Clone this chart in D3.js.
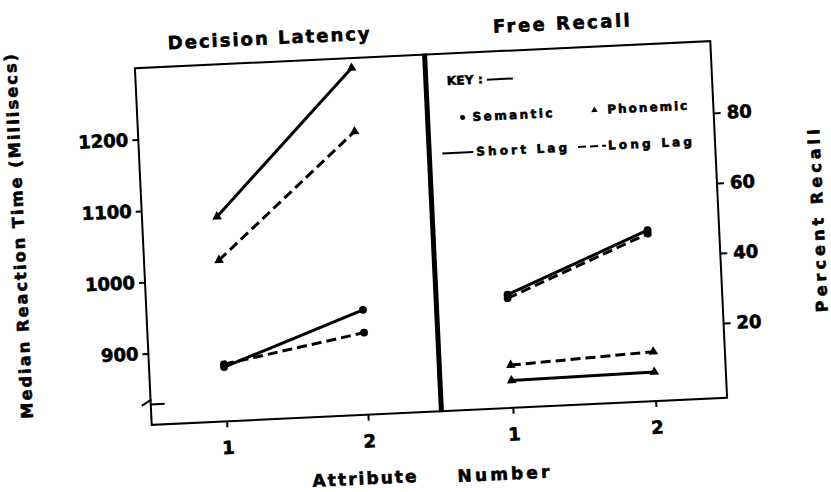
<!DOCTYPE html>
<html>
<head>
<meta charset="utf-8">
<script src="https://cdnjs.cloudflare.com/ajax/libs/d3/7.8.5/d3.min.js"></script>
<style>
  body { margin: 0; background: #fff; }
  text { font-family: "DejaVu Sans", sans-serif; font-weight: bold; fill: #000; stroke: #000; stroke-width: 0.6px; }
</style>
</head>
<body>
<div id="chart"></div>
<script>
// values
var attributes = [1, 2];
var latencyTicks = [900, 1000, 1100, 1200];
var recallTicks = [20, 40, 60, 80];

// decision latency (ms)
var latSemShort = [876, 947];
var latSemLong = [880, 915];
var latPhonShort = [1087, 1286];
var latPhonLong = [1026, 1197];

// free recall (percent)
var recSemShort = [31, 47.5];
var recSemLong = [30, 46.5];
var recPhonShort = [6.5, 7];
var recPhonLong = [10.9, 12.8];

var cfg = {
    w: 831,
    h: 492,
    left: 143,
    mid: 433,
    right: 719,
    top: 54.5,
    bottom: 411.5,
    tilt: -2.7 // the scan is slightly rotated
};

var svg = d3.select("#chart")
    .append("svg")
    .attr("width", cfg.w)
    .attr("height", cfg.h);

var g = svg.append("g")
    .attr("transform", "rotate(" + cfg.tilt + ",431,233)");

var xLeft = d3.scaleLinear().domain([0.47, 2.52]).range([cfg.left, cfg.mid]);
var xRight = d3.scaleLinear().domain([0.5, 2.5]).range([cfg.mid, cfg.right]);
var yLat = d3.scaleLinear().domain([800, 1300]).range([cfg.bottom, cfg.top]);
var yRec = d3.scaleLinear().domain([-1.3, 100.5]).range([cfg.bottom, cfg.top]);

// frame
g.append("rect")
    .attr("x", cfg.left)
    .attr("y", cfg.top)
    .attr("width", cfg.right - cfg.left)
    .attr("height", cfg.bottom - cfg.top)
    .style("fill", "none")
    .style("stroke", "#000")
    .style("stroke-width", "2px");

g.append("line")
    .attr("x1", cfg.mid).attr("x2", cfg.mid)
    .attr("y1", cfg.top - 1).attr("y2", cfg.bottom + 1)
    .style("stroke", "#000")
    .style("stroke-width", "5px");

// axis break on the left axis
g.append("path")
    .attr("d", "M" + (cfg.left - 9) + ",392 L" + (cfg.left + 1) + ",386 M" + (cfg.left) + ",391 L" + (cfg.left + 14) + ",391")
    .style("fill", "none")
    .style("stroke", "#000")
    .style("stroke-width", "2px");

function styleAxis(sel, size) {
    sel.select(".domain").remove();
    sel.selectAll(".tick line").style("stroke", "#000").style("stroke-width", "2px");
    sel.selectAll(".tick text")
        .style("font-family", "DejaVu Sans, sans-serif")
        .style("font-weight", "bold")
        .style("font-size", size + "px")
        .style("stroke", "#000")
        .style("stroke-width", "0.6px")
        .attr("fill", "#000");
}

g.append("g")
    .attr("transform", "translate(" + cfg.left + ",0)")
    .call(d3.axisLeft(yLat).tickValues(latencyTicks).tickFormat(d3.format("d")).tickSize(6).tickPadding(4))
    .call(styleAxis, 18);

g.append("g")
    .attr("transform", "translate(" + cfg.right + ",0)")
    .call(d3.axisRight(yRec).tickValues(recallTicks).tickFormat(d3.format("d")).tickSize(7).tickPadding(6))
    .call(styleAxis, 18);

g.append("g")
    .attr("transform", "translate(0," + cfg.bottom + ")")
    .call(d3.axisBottom(xLeft).tickValues(attributes).tickFormat(d3.format("d")).tickSize(6).tickPadding(14))
    .call(styleAxis, 18);

g.append("g")
    .attr("transform", "translate(0," + cfg.bottom + ")")
    .call(d3.axisBottom(xRight).tickValues(attributes).tickFormat(d3.format("d")).tickSize(6).tickPadding(14))
    .call(styleAxis, 18);

// series
var latencySeries = [
    { values: latSemShort, marker: "circle", dash: null },
    { values: latSemLong, marker: "circle", dash: "10,5" },
    { values: latPhonShort, marker: "triangle", dash: null },
    { values: latPhonLong, marker: "triangle", dash: "10,5" }
];
var recallSeries = [
    { values: recSemShort, marker: "circle", dash: null },
    { values: recSemLong, marker: "circle", dash: "10,5" },
    { values: recPhonShort, marker: "triangle", dash: null },
    { values: recPhonLong, marker: "triangle", dash: "10,5" }
];

function drawSeries(series, x, y) {
    var line = d3.line()
        .x(function (d, i) { return x(attributes[i]); })
        .y(function (d) { return y(d); });

    series.forEach(function (s) {
        g.append("path")
            .attr("d", line(s.values))
            .style("fill", "none")
            .style("stroke", "#000")
            .style("stroke-width", "3px")
            .style("stroke-dasharray", s.dash);

        var sym = d3.symbol()
            .type(s.marker == "circle" ? d3.symbolCircle : d3.symbolTriangle)
            .size(s.marker == "circle" ? 48 : 40);

        g.selectAll(null)
            .data(s.values)
            .enter()
            .append("path")
            .attr("d", sym)
            .attr("transform", function (d, i) { return "translate(" + x(attributes[i]) + "," + y(d) + ")"; })
            .style("fill", "#000");
    });
}

drawSeries(latencySeries, xLeft, yLat);
drawSeries(recallSeries, xRight, yRec);

// titles and axis labels
g.append("text")
    .attr("x", 278).attr("y", 37)
    .attr("text-anchor", "middle")
    .attr("textLength", 202)
    .style("font-size", "18px")
    .text("Decision  Latency");

g.append("text")
    .attr("x", 571).attr("y", 36)
    .attr("text-anchor", "middle")
    .attr("textLength", 137)
    .style("font-size", "18px")
    .text("Free  Recall");

g.append("text")
    .attr("transform", "translate(19,217) rotate(-90)")
    .attr("text-anchor", "middle")
    .attr("dy", "0.35em")
    .attr("textLength", 365)
    .style("font-size", "16px")
    .text("Median  Reaction  Time  (Millisecs)");

g.append("text")
    .attr("transform", "translate(818,239) rotate(-90)")
    .attr("text-anchor", "middle")
    .attr("dy", "0.35em")
    .attr("textLength", 183)
    .style("font-size", "16px")
    .text("Percent  Recall");

g.append("text")
    .attr("x", 353).attr("y", 481)
    .attr("text-anchor", "middle")
    .attr("textLength", 104)
    .style("font-size", "17px")
    .text("Attribute");

g.append("text")
    .attr("x", 492).attr("y", 483)
    .attr("text-anchor", "middle")
    .attr("textLength", 92)
    .style("font-size", "17px")
    .text("Number");

// key
var key = g.append("g");

key.append("text")
    .attr("x", 454).attr("y", 86)
    .attr("textLength", 36)
    .style("font-size", "12px")
    .text("KEY :");
key.append("line")
    .attr("x1", 494).attr("x2", 520).attr("y1", 82.5).attr("y2", 82.5)
    .style("stroke", "#000").style("stroke-width", "2px");

key.append("circle")
    .attr("cx", 468).attr("cy", 119).attr("r", 2.5)
    .style("fill", "#000");
key.append("text")
    .attr("x", 478).attr("y", 123)
    .attr("textLength", 80)
    .style("font-size", "12px")
    .text("Semantic");

key.append("path")
    .attr("d", d3.symbol().type(d3.symbolTriangle).size(18))
    .attr("transform", "translate(600,118)")
    .style("fill", "#000");
key.append("text")
    .attr("x", 613).attr("y", 122)
    .attr("textLength", 80)
    .style("font-size", "12px")
    .text("Phonemic");

key.append("line")
    .attr("x1", 446).attr("x2", 477).attr("y1", 154).attr("y2", 154)
    .style("stroke", "#000").style("stroke-width", "2px");
key.append("text")
    .attr("x", 480).attr("y", 158)
    .attr("textLength", 91)
    .style("font-size", "12px")
    .text("Short Lag");

key.append("line")
    .attr("x1", 582).attr("x2", 610).attr("y1", 154).attr("y2", 154)
    .style("stroke", "#000").style("stroke-width", "2px")
    .style("stroke-dasharray", "8,4");
key.append("text")
    .attr("x", 612).attr("y", 158)
    .attr("textLength", 84)
    .style("font-size", "12px")
    .text("Long Lag");
</script>
</body>
</html>
